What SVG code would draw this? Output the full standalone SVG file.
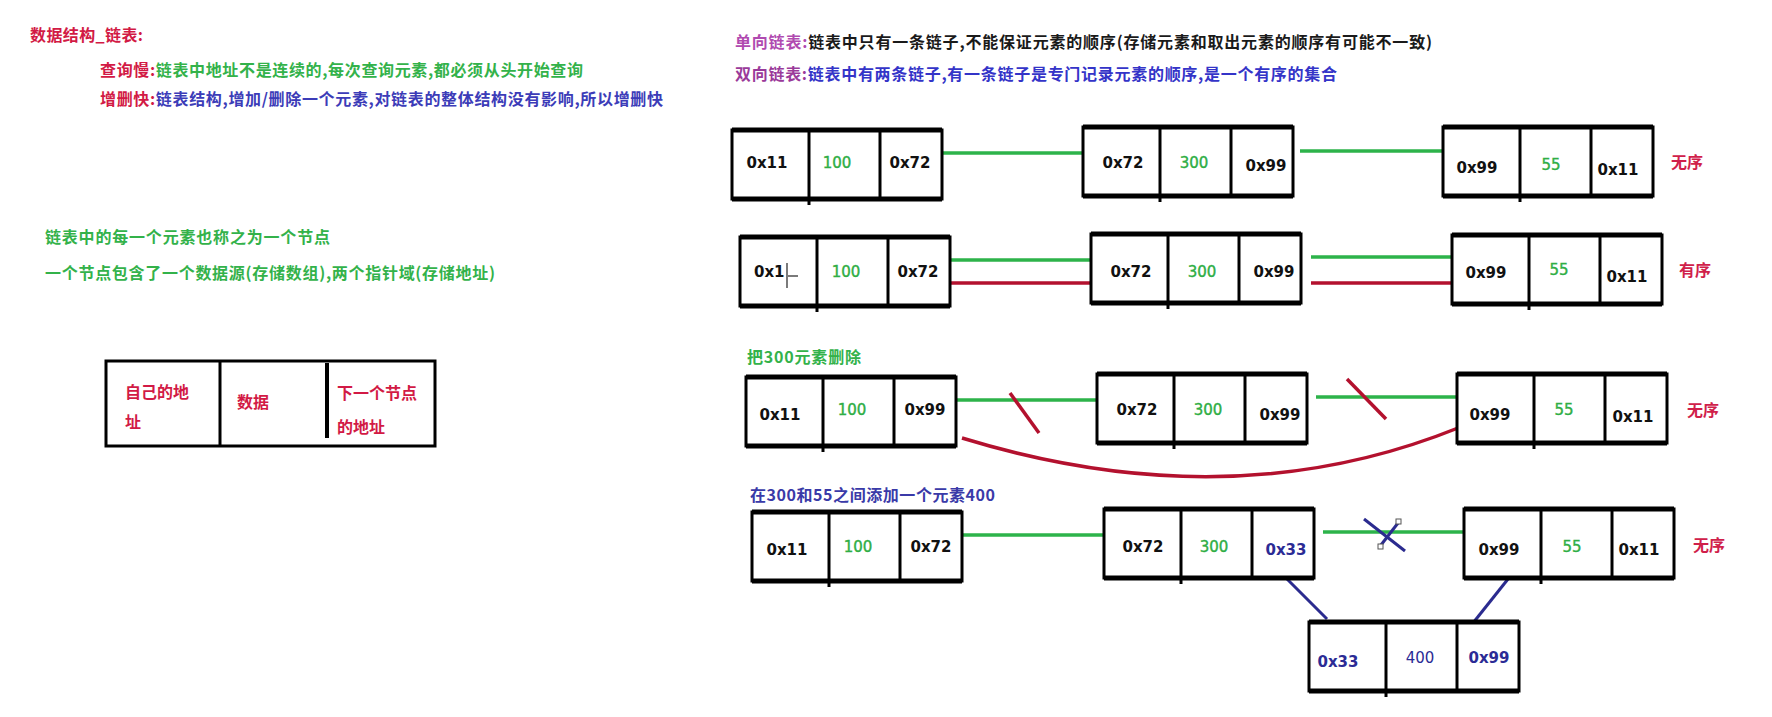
<svg xmlns="http://www.w3.org/2000/svg" xmlns:xlink="http://www.w3.org/1999/xlink" width="1772" height="717" viewBox="0 0 1772 717">
<style>
.cjk{font-family:"Noto Sans CJK SC","Noto Sans",sans-serif;font-weight:bold;font-size:16px}
.lat{font-family:"DejaVu Sans","Noto Sans",sans-serif;font-weight:bold;font-size:15px;text-anchor:middle;fill:#111}
.num{font-family:"DejaVu Sans","Noto Sans",sans-serif;font-size:15px;text-anchor:middle;fill:#2fae45;stroke:#2fae45;stroke-width:0.4}
.blu{fill:#2b2b95}
.red{fill:#d21a45}
.grn{fill:#33b24a}
.vio{fill:#3c3cb8}
.ord{font-family:"Noto Sans CJK SC",sans-serif;font-weight:bold;font-size:16px;fill:#d0204a;text-anchor:middle}
.box{fill:#fff;stroke:#000;stroke-width:3}
.thk{stroke:#000;stroke-width:5}
.div{stroke:#000;stroke-width:3}
.g{stroke:#2db34a;stroke-width:3.5;fill:none}
.r{stroke:#b3112e;stroke-width:3.5;fill:none}
.b{stroke:#2b2b8f;stroke-width:3;fill:none}
</style>
<defs>
<g id="node">
<rect class="box" x="0" y="0" width="210" height="69"/>
<line class="thk" x1="0" y1="0" x2="210" y2="0"/>
<line class="thk" x1="0" y1="69" x2="210" y2="69"/>
<line class="div" x1="77" y1="0" x2="77" y2="75"/>
<line class="div" x1="148" y1="0" x2="148" y2="69"/>
</g>
</defs>
<rect width="1772" height="717" fill="#fff"/>

<g id="intro">
<text class="cjk red" x="30" y="41" textLength="113">数据结构_链表:</text>
<text class="cjk" x="100" y="76" textLength="483"><tspan class="red">查询慢:</tspan><tspan class="grn">链表中地址不是连续的,每次查询元素,都必须从头开始查询</tspan></text>
<text class="cjk" x="100" y="105" textLength="563"><tspan class="red">增删快:</tspan><tspan class="vio">链表结构,增加/删除一个元素,对链表的整体结构没有影响,所以增删快</tspan></text>
<text class="cjk grn" x="45" y="243" textLength="285">链表中的每一个元素也称之为一个节点</text>
<text class="cjk grn" x="45" y="279" textLength="450">一个节点包含了一个数据源(存储数组),两个指针域(存储地址)</text>
</g>

<g id="node-legend">
<rect class="box" x="106" y="361" width="329" height="85"/>
<line class="div" x1="220" y1="362" x2="220" y2="445"/>
<line stroke="#000" stroke-width="4" x1="327" y1="363" x2="327" y2="438"/>
<text class="cjk red" x="125" y="398">自己的地</text>
<text class="cjk red" x="125" y="428">址</text>
<text class="cjk red" x="237" y="408">数据</text>
<text class="cjk red" x="337" y="399">下一个节点</text>
<text class="cjk red" x="337" y="433">的地址</text>
</g>

<g id="types">
<text class="cjk" x="735" y="48" textLength="697"><tspan fill="#b04ab0">单向链表:</tspan><tspan fill="#1a1a1a">链表中只有一条链子,不能保证元素的顺序(存储元素和取出元素的顺序有可能不一致)</tspan></text>
<text class="cjk" x="735" y="80" textLength="602"><tspan fill="#9a3a9a">双向链表:</tspan><tspan fill="#3434c8">链表中有两条链子,有一条链子是专门记录元素的顺序,是一个有序的集合</tspan></text>
</g>

<g id="connectors">
<line class="g" x1="941" y1="153" x2="1083" y2="153"/>
<line class="g" x1="1300" y1="151" x2="1443" y2="151"/>
<line class="g" x1="951" y1="260" x2="1091" y2="260"/>
<line class="r" x1="951" y1="283" x2="1091" y2="283"/>
<line class="g" x1="1311" y1="257" x2="1452" y2="257"/>
<line class="r" x1="1311" y1="283" x2="1452" y2="283"/>
<line class="g" x1="955" y1="400" x2="1097" y2="400"/>
<line class="g" x1="1316" y1="397" x2="1457" y2="397"/>
<line class="r" x1="1010" y1="393" x2="1039" y2="433"/>
<line class="r" x1="1347" y1="379" x2="1386" y2="419"/>
<path class="r" d="M962,438 Q1230,520 1458,428"/>
<line class="g" x1="963" y1="535" x2="1104" y2="535"/>
<line class="g" x1="1323" y1="532" x2="1464" y2="532"/>
<line class="b" x1="1364" y1="519" x2="1405" y2="551"/>
<line class="b" x1="1398" y1="523" x2="1381" y2="545"/>
<rect x="1396" y="519" width="5" height="5" fill="#fff" stroke="#555" stroke-width="1"/>
<rect x="1378" y="544" width="5" height="5" fill="#fff" stroke="#555" stroke-width="1"/>
<line class="b" x1="1287" y1="579" x2="1327" y2="619"/>
<line class="b" x1="1512" y1="574" x2="1473" y2="623"/>
</g>

<g id="r1-a"><use xlink:href="#node" x="732" y="130"/>
<text class="lat" x="767" y="168">0x11</text><text class="num" x="837" y="168">100</text><text class="lat" x="910" y="168">0x72</text></g>
<g id="r1-b"><use xlink:href="#node" x="1083" y="127"/>
<text class="lat" x="1123" y="168">0x72</text><text class="num" x="1194" y="168">300</text><text class="lat" x="1266" y="171">0x99</text></g>
<g id="r1-c"><use xlink:href="#node" x="1443" y="127"/>
<text class="lat" x="1477" y="173">0x99</text><text class="num" x="1551" y="170">55</text><text class="lat" x="1618" y="175">0x11</text></g>
<text class="ord" x="1687" y="168">无序</text>

<g id="r2-a"><use xlink:href="#node" x="740" y="237"/>
<text class="lat" x="754" y="277" style="text-anchor:start">0x1</text>
<line x1="787" y1="263" x2="787" y2="288" stroke="#222" stroke-width="1.2"/>
<line x1="788" y1="276" x2="798" y2="276" stroke="#222" stroke-width="1.2"/>
<text class="num" x="846" y="277">100</text><text class="lat" x="918" y="277">0x72</text></g>
<g id="r2-b"><use xlink:href="#node" x="1091" y="234"/>
<text class="lat" x="1131" y="277">0x72</text><text class="num" x="1202" y="277">300</text><text class="lat" x="1274" y="277">0x99</text></g>
<g id="r2-c"><use xlink:href="#node" x="1452" y="235"/>
<text class="lat" x="1486" y="278">0x99</text><text class="num" x="1559" y="275">55</text><text class="lat" x="1627" y="282">0x11</text></g>
<text class="ord" x="1695" y="276">有序</text>

<text class="cjk grn" x="747" y="363" textLength="114">把300元素删除</text>
<g id="r3-a"><use xlink:href="#node" x="746" y="377"/>
<text class="lat" x="780" y="420">0x11</text><text class="num" x="852" y="415">100</text><text class="lat" x="925" y="415">0x99</text></g>
<g id="r3-b"><use xlink:href="#node" x="1097" y="374"/>
<text class="lat" x="1137" y="415">0x72</text><text class="num" x="1208" y="415">300</text><text class="lat" x="1280" y="420">0x99</text></g>
<g id="r3-c"><use xlink:href="#node" x="1457" y="374"/>
<text class="lat" x="1490" y="420">0x99</text><text class="num" x="1564" y="415">55</text><text class="lat" x="1633" y="422">0x11</text></g>
<text class="ord" x="1703" y="416">无序</text>

<text class="cjk" x="750" y="501" textLength="245" fill="#3a3aa8">在300和55之间添加一个元素400</text>
<g id="r4-a"><use xlink:href="#node" x="752" y="512"/>
<text class="lat" x="787" y="555">0x11</text><text class="num" x="858" y="552">100</text><text class="lat" x="931" y="552">0x72</text></g>
<g id="r4-b"><use xlink:href="#node" x="1104" y="509"/>
<text class="lat" x="1143" y="552">0x72</text><text class="num" x="1214" y="552">300</text><text class="lat blu" x="1286" y="555">0x33</text></g>
<g id="r4-c"><use xlink:href="#node" x="1464" y="509"/>
<text class="lat" x="1499" y="555">0x99</text><text class="num" x="1572" y="552">55</text><text class="lat" x="1639" y="555">0x11</text></g>
<text class="ord" x="1709" y="551">无序</text>
<g id="r4-new"><use xlink:href="#node" x="1309" y="622"/>
<text class="lat blu" x="1338" y="667">0x33</text><text class="lat blu" x="1420" y="663" style="font-weight:normal">400</text><text class="lat blu" x="1489" y="663">0x99</text></g>
</svg>
